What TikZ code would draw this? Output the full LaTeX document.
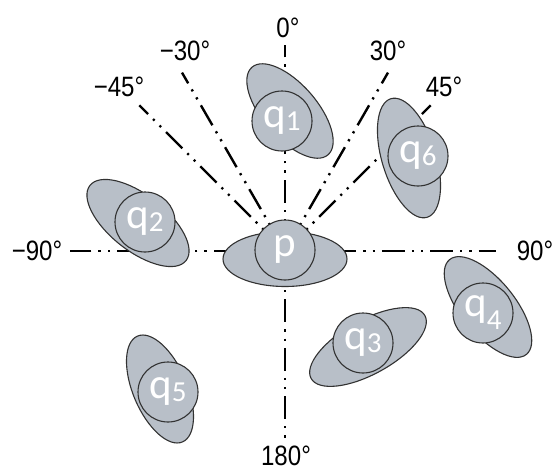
\documentclass[tikz,border=0pt]{standalone}
\usepackage{fontspec}
\newfontfamily\axisfont[FakeStretch=0.86]{Liberation Sans}
\newfontfamily\qfont{Carlito}
\usetikzlibrary{shapes.geometric}
\definecolor{blobfill}{RGB}{184,191,200}
\definecolor{blobline}{RGB}{50,50,50}
\tikzset{
  axisline/.style={line width=2.4pt, dash pattern=on 23pt off 7pt on 2.2pt off 7pt on 2.2pt off 7pt},
  blob/.style={ellipse, draw=blobline, fill=blobfill, line width=1.1pt, inner sep=0pt},
  disc/.style={circle, draw=blobline, fill=blobfill, line width=1.1pt, inner sep=0pt,
    minimum size=60pt, text=white, font=\qfont\fontsize{43}{43}\selectfont},
  anglelabel/.style={font=\axisfont\fontsize{28}{28}\selectfont, inner sep=0pt}
}
\newcommand\qidx[2][-0.06em]{\raisebox{#1}{\fontsize{29}{29}\selectfont #2}}
\begin{document}
\begin{tikzpicture}[x=1pt,y=-1pt]
\useasboundingbox (0,0) rectangle (558,472);

% axes through p
\coordinate (o) at (285,251);
\coordinate (top) at (285,45);
\coordinate (bottom) at (285,440);
\coordinate (left) at (70,251);
\coordinate (right) at (496,251);
\coordinate (m30) at (182,72.6);
\coordinate (p30) at (388,72.6);
\coordinate (m45) at (139.3,105.3);
\coordinate (p45) at (430.7,105.3);
\foreach \e in {top,bottom,left,right,m30,p30,m45,p45}
  \draw[axisline] (o) -- (\e);

% angle labels
\node[anglelabel] (l0) at (288,28) {0°};
\node[anglelabel] (lm30) at (185,51) {−30°};
\node[anglelabel] (lp30) at (388,51) {30°};
\node[anglelabel] (lm45) at (119,87) {−45°};
\node[anglelabel] (lp45) at (444,87) {45°};
\node[anglelabel] (lm90) at (37,251) {−90°};
\node[anglelabel] (lp90) at (535,251) {90°};
\node[anglelabel] (l180) at (286,456) {180°};

% p
\node[blob, minimum width=124pt, minimum height=55pt] (ep) at (285,259) {};
\node[disc] (p) at (285,250) {p};

% q1
\node[blob, minimum width=116pt, minimum height=54pt, rotate=-49] (e1) at (290,111) {};
\node[disc] (q1) at (282,121) {q\qidx{1}};
% q2
\node[blob, minimum width=122pt, minimum height=56pt, rotate=-38] (e2) at (138,223) {};
\node[disc] (q2) at (145,222) {q\qidx{2}};
% q3
\node[blob, minimum width=130pt, minimum height=54pt, rotate=29] (e3) at (368,347) {};
\node[disc] (q3) at (363,343) {q\qidx{3}};
% q4
\node[blob, minimum width=122pt, minimum height=54pt, rotate=-51] (e4) at (488,307) {};
\node[disc] (q4) at (483,313) {q\qidx[-0.3em]{4}};
% q5
\node[blob, minimum width=115pt, minimum height=54pt, rotate=-67] (e5) at (160,389) {};
\node[disc] (q5) at (168,392) {q\qidx{5}};
% q6
\node[blob, minimum width=124pt, minimum height=54pt, rotate=-73] (e6) at (409,158) {};
\node[disc] (q6) at (418,156) {q\qidx{6}};
\end{tikzpicture}
\end{document}
